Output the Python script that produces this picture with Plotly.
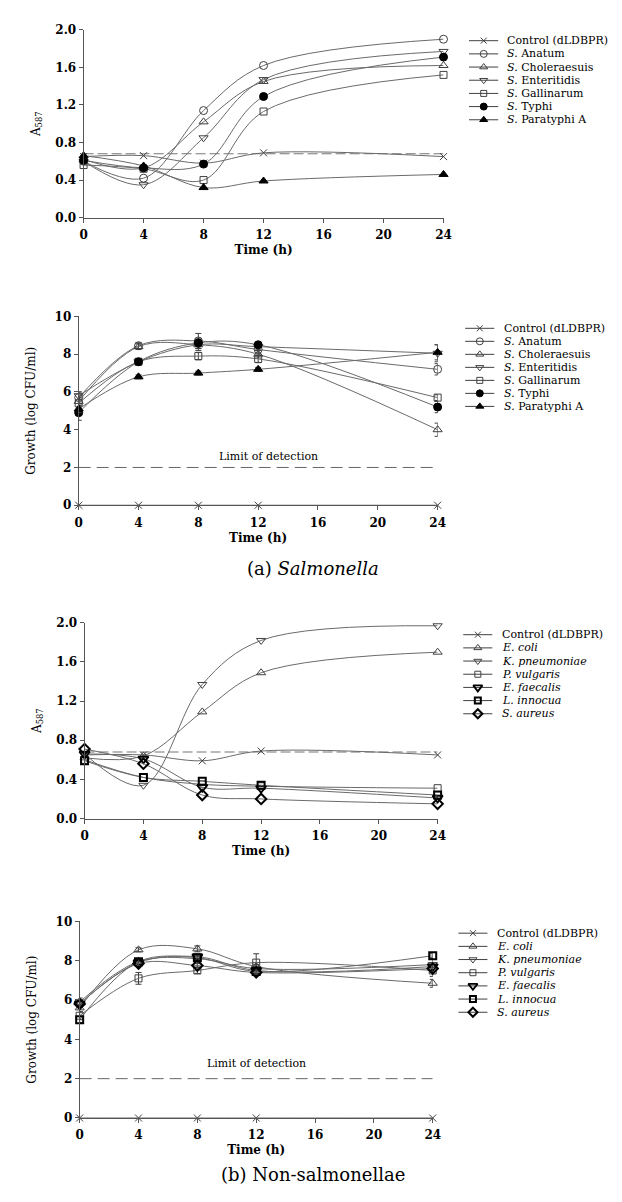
import plotly.graph_objects as go

# ---------------- data ----------------
time_h = [0, 4, 8, 12, 24]
x_ticks = [0, 4, 8, 12, 16, 20, 24]

salm_names = ["Control (dLDBPR)", "<i>S.</i> Anatum", "<i>S.</i> Choleraesuis",
              "<i>S.</i> Enteritidis", "<i>S.</i> Gallinarum", "<i>S.</i> Typhi",
              "<i>S.</i> Paratyphi A"]
non_names = ["Control (dLDBPR)", "<i>E. coli</i>", "<i>K. pneumoniae</i>",
             "<i>P. vulgaris</i>", "<i>E. faecalis</i>", "<i>L. innocua</i>",
             "<i>S. aureus</i>"]

# (a) Salmonella - A587
a_control = [0.65, 0.66, 0.58, 0.69, 0.65]
a_anatum = [0.60, 0.42, 1.14, 1.62, 1.90]
a_cholera = [0.62, 0.53, 1.02, 1.45, 1.62]
a_enter = [0.60, 0.35, 0.85, 1.47, 1.77]
a_gallin = [0.56, 0.52, 0.40, 1.13, 1.52]
a_typhi = [0.61, 0.53, 0.57, 1.29, 1.71]
a_paraty = [0.66, 0.55, 0.32, 0.39, 0.46]

# (a) Salmonella - growth (log CFU/ml) and error
g_control = [0, 0, 0, 0, 0]
g_anatum = [5.7, 8.45, 8.7, 8.25, 7.2]
g_cholera = [5.5, 8.4, 8.5, 8.0, 4.0]
g_enter = [5.8, 7.6, 8.5, 8.4, 8.05]
g_gallin = [5.4, 7.6, 7.9, 7.75, 5.7]
g_typhi = [4.9, 7.6, 8.6, 8.5, 5.2]
g_paraty = [5.1, 6.8, 7.0, 7.2, 8.1]
e_anatum = [0.3, 0.15, 0.4, 0.2, 0.3]
e_cholera = [0.3, 0.15, 0.3, 0.2, 0.35]
e_enter = [0.2, 0.1, 0.2, 0.2, 0.45]
e_gallin = [0.3, 0.1, 0.2, 0.2, 0.15]
e_typhi = [0.4, 0.1, 0.2, 0.1, 0.3]
e_paraty = [0.2, 0.1, 0.1, 0.1, 0.4]

# (b) Non-salmonellae - A587
b_control = [0.65, 0.65, 0.59, 0.69, 0.65]
b_ecoli = [0.62, 0.64, 1.09, 1.49, 1.70]
b_kpneu = [0.66, 0.34, 1.37, 1.82, 1.97]
b_pvulg = [0.60, 0.42, 0.35, 0.33, 0.31]
b_efaec = [0.66, 0.61, 0.32, 0.31, 0.21]
b_linno = [0.59, 0.42, 0.38, 0.34, 0.24]
b_saure = [0.71, 0.56, 0.24, 0.20, 0.15]

# (b) Non-salmonellae - growth
h_control = [0, 0, 0, 0, 0]
h_ecoli = [5.6, 8.55, 8.6, 7.7, 6.85]
h_kpneu = [5.9, 7.95, 8.1, 7.6, 7.8]
h_pvulg = [5.2, 7.1, 7.5, 7.9, 7.5]
h_efaec = [5.8, 7.9, 8.2, 7.5, 7.7]
h_linno = [5.0, 7.95, 8.15, 7.45, 8.25]
h_saure = [5.8, 7.85, 7.75, 7.4, 7.6]
f_ecoli = [0.2, 0.1, 0.15, 0.2, 0.2]
f_kpneu = [0.2, 0.1, 0.1, 0.2, 0.3]
f_pvulg = [0.2, 0.3, 0.15, 0.45, 0.3]
f_efaec = [0.15, 0.1, 0.1, 0.2, 0.2]
f_linno = [0.15, 0.1, 0.1, 0.1, 0.1]
f_saure = [0.15, 0.1, 0.1, 0.1, 0.2]

control_a587_level = 0.68
limit_of_detection = 2

# ---------------- styling ----------------
W, H = 622, 1202
FONT = "DejaVu Serif"
LINE = "#6a6a6a"
DARK = "#404040"

# symbol, size, colour, marker line width
sty_a = [("x-thin", 7, DARK, 1), ("circle-open", 8, DARK, 1),
         ("triangle-up-open", 8, DARK, 1), ("triangle-down-open", 8, DARK, 1),
         ("square-open", 7, DARK, 1), ("circle", 8, "black", 1),
         ("triangle-up", 8, "black", 1)]
sty_b = [("x-thin", 7, DARK, 1), ("triangle-up-open", 8, DARK, 1),
         ("triangle-down-open", 8, DARK, 1), ("square-open", 7, DARK, 1),
         ("triangle-down-open", 9, "black", 1.8), ("square-open", 7, "black", 2),
         ("diamond-open", 8, "black", 2)]


def xd(a, b):
    return [a / W, b / W]


def yd(top, bottom):
    return [1 - bottom / H, 1 - top / H]


panels = [
    dict(x=(73, 440), y=(15, 205), yr=[0, 2.0], dt=0.4, fmt=".1f",
         title="A<sub>587</sub>", standoff=12),
    dict(x=(68, 434), y=(305, 496), yr=[0, 10], dt=2, fmt="d",
         title="Growth (log CFU/ml)", standoff=16),
    dict(x=(74, 434), y=(615, 813), yr=[0, 2.0], dt=0.4, fmt=".1f",
         title="A<sub>587</sub>", standoff=12),
    dict(x=(69, 429), y=(917, 1116), yr=[0, 10], dt=2, fmt="d",
         title="Growth (log CFU/ml)", standoff=16),
]
legends = [
    dict(x=(466, 496), rows=(26, 106)),
    dict(x=(462, 492), rows=(317, 396)),
    dict(x=(460, 490), rows=(627, 707)),
    dict(x=(455, 485), rows=(929, 1009)),
]

fig = go.Figure()

layout = dict(width=W, height=H, margin=dict(l=0, r=0, t=0, b=0),
              paper_bgcolor="white", plot_bgcolor="white", showlegend=False,
              font=dict(family=FONT, color="black"))

for i, p in enumerate(panels):
    n = i + 1
    sfx = str(n) if n > 1 else ""
    layout[f"xaxis{sfx}"] = dict(
        domain=xd(*p["x"]), range=[0, 24], tickvals=x_ticks, anchor=f"y{sfx}",
        showline=True, linecolor="#555", linewidth=1, ticks="outside", ticklen=4,
        tickcolor="#555", showgrid=False, zeroline=False,
        tickfont=dict(family=FONT, size=12, weight="bold"), ticklabelstandoff=2,
        title=dict(text="Time (h)", font=dict(family=FONT, size=12, weight="bold"), standoff=4))
    layout[f"yaxis{sfx}"] = dict(
        domain=yd(*p["y"]), range=p["yr"], dtick=p["dt"], tickformat=p["fmt"],
        anchor=f"x{sfx}",
        showline=True, linecolor="#555", linewidth=1, ticks="outside", ticklen=4,
        tickcolor="#555", showgrid=False, zeroline=False,
        tickfont=dict(family=FONT, size=12, weight="bold"),
        title=dict(text=p["title"], font=dict(family=FONT, size=12), standoff=p["standoff"]))

for i, lg in enumerate(legends):
    n = i + 5
    half = (lg["rows"][1] - lg["rows"][0]) / 12
    layout[f"xaxis{n}"] = dict(domain=xd(*lg["x"]), range=[0, 1], visible=False,
                               anchor=f"y{n}", fixedrange=True)
    layout[f"yaxis{n}"] = dict(domain=yd(lg["rows"][0] - half, lg["rows"][1] + half),
                               range=[6.5, -0.5], visible=False, anchor=f"x{n}",
                               fixedrange=True)

fig.update_layout(**layout)


def add_series(ax, ys, name, st, err=None):
    sym, size, col, lw = st
    xa = "x" if ax == 1 else f"x{ax}"
    ya = "y" if ax == 1 else f"y{ax}"
    tr = dict(x=time_h, y=ys, name=name, mode="lines+markers", xaxis=xa, yaxis=ya,
              line=dict(shape="spline", color=LINE, width=1), cliponaxis=False,
              marker=dict(symbol=sym, size=size, color=col,
                          line=dict(width=lw, color=col)))
    if err is not None:
        tr["error_y"] = dict(type="data", array=err, thickness=1, width=3, color=DARK)
    fig.add_trace(go.Scatter(**tr))


def add_legend(ax, names, styles):
    xa, ya = f"x{ax}", f"y{ax}"
    for k, (nm, st) in enumerate(zip(names, styles)):
        sym, size, col, lw = st
        fig.add_trace(go.Scatter(x=[0, 1], y=[k, k], mode="lines", xaxis=xa, yaxis=ya,
                                 line=dict(color=DARK, width=1), hoverinfo="skip"))
        fig.add_trace(go.Scatter(x=[0.5], y=[k], mode="markers", xaxis=xa, yaxis=ya,
                                 cliponaxis=False, hoverinfo="skip",
                                 marker=dict(symbol=sym, size=size - 1, color=col,
                                             line=dict(width=lw, color=col))))
        fig.add_annotation(x=1, y=k, xref=xa, yref=ya, text=nm, showarrow=False,
                           xanchor="left", yanchor="middle", xshift=7,
                           font=dict(family=FONT, size=11, color="black"))


# reference dashed lines
for ax, lvl in [(1, control_a587_level), (3, control_a587_level)]:
    fig.add_trace(go.Scatter(x=[0, 24], y=[lvl, lvl], mode="lines",
                             xaxis="x" if ax == 1 else f"x{ax}", yaxis="y" if ax == 1 else f"y{ax}",
                             line=dict(color="#777", width=1.2, dash="10px,4px"),
                             hoverinfo="skip"))
for ax, lx, ly in [(2, 12.7, 2.6), (4, 12.0, 2.75)]:
    fig.add_trace(go.Scatter(x=[0, 24], y=[limit_of_detection] * 2, mode="lines",
                             xaxis=f"x{ax}", yaxis=f"y{ax}",
                             line=dict(color="#666", width=1, dash="12px,6px"),
                             hoverinfo="skip"))
    fig.add_annotation(x=lx, y=ly, xref=f"x{ax}", yref=f"y{ax}", text="Limit of detection",
                       showarrow=False, font=dict(family=FONT, size=11, color="black"))

# panel (a) top
for ys, nm, st in zip([a_control, a_anatum, a_cholera, a_enter, a_gallin, a_typhi, a_paraty],
                      salm_names, sty_a):
    add_series(1, ys, nm, st)
# panel (a) bottom
add_series(2, g_control, salm_names[0], sty_a[0])
for ys, er, nm, st in zip([g_anatum, g_cholera, g_enter, g_gallin, g_typhi, g_paraty],
                          [e_anatum, e_cholera, e_enter, e_gallin, e_typhi, e_paraty],
                          salm_names[1:], sty_a[1:]):
    add_series(2, ys, nm, st, er)
# panel (b) top
for ys, nm, st in zip([b_control, b_ecoli, b_kpneu, b_pvulg, b_efaec, b_linno, b_saure],
                      non_names, sty_b):
    add_series(3, ys, nm, st)
# panel (b) bottom
add_series(4, h_control, non_names[0], sty_b[0])
for ys, er, nm, st in zip([h_ecoli, h_kpneu, h_pvulg, h_efaec, h_linno, h_saure],
                          [f_ecoli, f_kpneu, f_pvulg, f_efaec, f_linno, f_saure],
                          non_names[1:], sty_b[1:]):
    add_series(4, ys, nm, st, er)

add_legend(5, salm_names, sty_a)
add_legend(6, salm_names, sty_a)
add_legend(7, non_names, sty_b)
add_legend(8, non_names, sty_b)

fig.add_annotation(x=307 / W, y=1 - 560 / H, xref="paper", yref="paper",
                   text="(a) <i>Salmonella</i>", showarrow=False,
                   font=dict(family=FONT, size=18, color="black"))
fig.add_annotation(x=307 / W, y=1 - 1186 / H, xref="paper", yref="paper",
                   text="(b) Non-salmonellae", showarrow=False,
                   font=dict(family=FONT, size=18, color="black"))

fig.write_html("out.html")
